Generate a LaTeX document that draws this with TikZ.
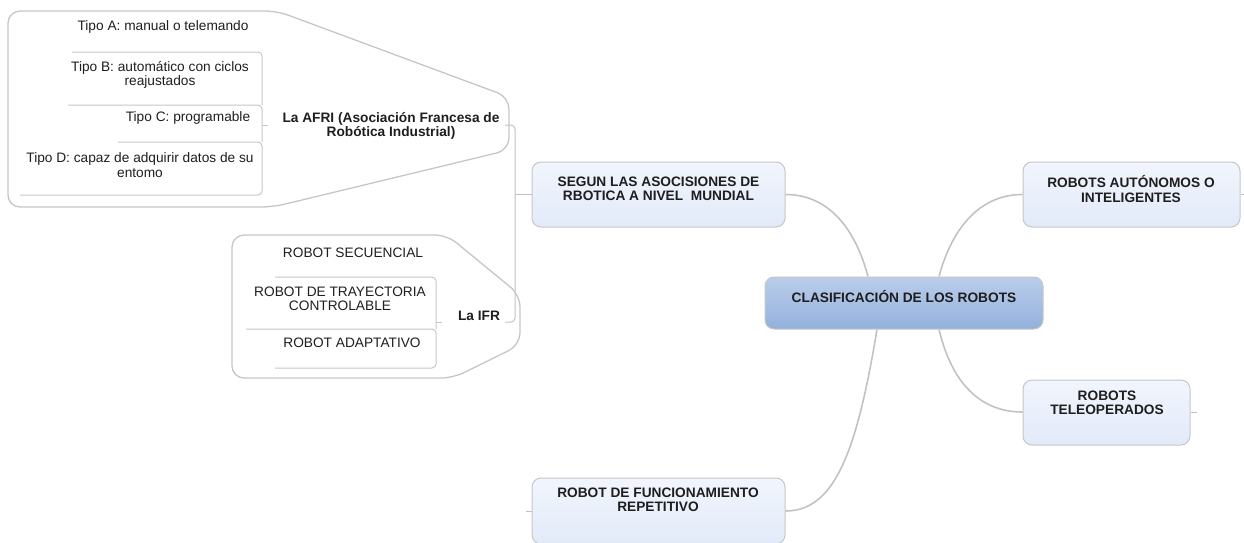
\documentclass[tikz,border=0pt]{standalone}
\usepackage{fontspec}
\setmainfont{Liberation Sans}
\usetikzlibrary{positioning,calc}
\definecolor{edgegray}{HTML}{C6C6C6}
\definecolor{linegray}{HTML}{C2C2C2}
\definecolor{topictop}{HTML}{F1F5FD}
\definecolor{topicbot}{HTML}{E2EAF9}
\definecolor{maintop}{HTML}{BACDEB}
\definecolor{mainbot}{HTML}{93B1DC}
\definecolor{inkgray}{HTML}{1E1E1E}

\begin{document}
\begin{tikzpicture}[x=1pt, y=-1pt,
  every node/.style={inner sep=0pt, align=center, text=inkgray, font=\fontsize{13.7}{14.5}\selectfont},
  topfont/.style={font=\bfseries\fontsize{13.7}{14.5}\selectfont},
  topicbox/.style={draw=edgegray, line width=1pt, rounded corners=9pt, top color=topictop, bottom color=topicbot},
  mainbox/.style={draw=edgegray, line width=1pt, rounded corners=9pt, top color=maintop, bottom color=mainbot},
  branch/.style={draw=linegray, line width=1.6pt},
  thinbranch/.style={draw=linegray, line width=1pt, rounded corners=4pt},
  outline/.style={draw=edgegray, line width=1.3pt, rounded corners=12pt},
  rule/.style={draw=edgegray, line width=1pt, rounded corners=4pt}
]
  \useasboundingbox (0,0) rectangle (1244,542);

  \node[mainbox, minimum width=278pt, minimum height=52pt] (clasif) at (904,303) {};
  \node[topfont] (clasifT) at (904,296) {CLASIFICACIÓN DE LOS ROBOTS};

  \node[topicbox, minimum width=253pt, minimum height=65pt] (segun) at (658.5,194.5) {};
  \node[topfont] (segunT) at (658.5,189) {SEGUN LAS ASOCISIONES DE\\RBOTICA A NIVEL\ \ MUNDIAL};
  \node[topicbox, minimum width=217pt, minimum height=65pt] (auto) at (1131.5,194.5) {};
  \node[topfont] (autoT) at (1131,189) {ROBOTS AUTÓNOMOS O\\INTELIGENTES};
  \node[topicbox, minimum width=167pt, minimum height=65pt] (teleop) at (1106.5,412.5) {};
  \node[topfont] (teleopT) at (1107,403) {ROBOTS\\TELEOPERADOS};
  \node[topicbox, minimum width=253pt, minimum height=66pt] (repet) at (658.5,511) {};
  \node[topfont] (repetT) at (658,500) {ROBOT DE FUNCIONAMIENTO\\REPETITIVO};

  \draw[branch] ([xshift=-36pt]clasif.north) .. controls +(-12,-45) and +(45,0) .. (segun.east);
  \draw[branch] ([xshift=35pt]clasif.north) .. controls +(12,-45) and +(-45,0) .. (auto.west);
  \draw[branch] ([xshift=35pt]clasif.south) .. controls +(12,50) and +(-45,0) .. ([yshift=0.5pt]teleop.west);
  \draw[branch] ([xshift=-27pt]clasif.south) .. controls +(-20,120) and +(50,0) .. (repet.east);

  \coordinate (autoS) at ([xshift=5pt]auto.east);
  \coordinate (teleopS) at ([xshift=6pt]teleop.east);
  \coordinate (repetS) at ([xshift=-6pt]repet.west);
  \foreach \i/\j in {auto/autoS,teleop/teleopS,repet/repetS} \draw[thinbranch] (\i) -- (\j);

  \node[topfont] (afri) at (391,126) {La AFRI (Asociación Francesa de\\Robótica Industrial)};
  \node[topfont] (ifr) at (479,316) {La IFR};
  \coordinate (afriR) at (505,125);
  \coordinate (ifrR) at (505,322);
  \coordinate (brkT) at (515,125);
  \coordinate (brkB) at (515,322);
  \draw[thinbranch] (afriR) -- (brkT) -- (brkB) -- (ifrR);
  \draw[thinbranch] (segun.west) -- (segun.west -| brkT);

  \node (tipoA) at (163,27) {Tipo A: manual o telemando};
  \node (tipoB) at (160,75) {Tipo B: automático con ciclos\\reajustados};
  \node (tipoC) at (188,118) {Tipo C: programable};
  \node (tipoD) at (140,165) {Tipo D: capaz de adquirir datos de su\\entomo};

  \draw[rule] (72,52) -| (262,105);
  \draw[rule] (68,105) -| (262,142);
  \draw[rule] (118,142) -| (262,195) -- (20,195);
  \draw[rule] (262,125) -- (268,125);
  \draw[outline] (8,11) -- (277,11) -- (509,97) -- (509,150) -- (273,207) -- (8,207) -- cycle;

  \node (secuen) at (353,253) {ROBOT SECUENCIAL};
  \node (trayec) at (340,299) {ROBOT DE TRAYECTORIA\\CONTROLABLE};
  \node (adapt) at (352,343) {ROBOT ADAPTATIVO};

  \draw[rule] (275,277) -| (436,329);
  \draw[rule] (246,329) -| (436,368) -- (275,368);
  \draw[rule] (436,322) -- (442,322);
  \draw[outline] (232,235) -- (447,235) -- (520,295) -- (520,345) -- (453,378) -- (232,378) -- cycle;
\end{tikzpicture}
\end{document}
